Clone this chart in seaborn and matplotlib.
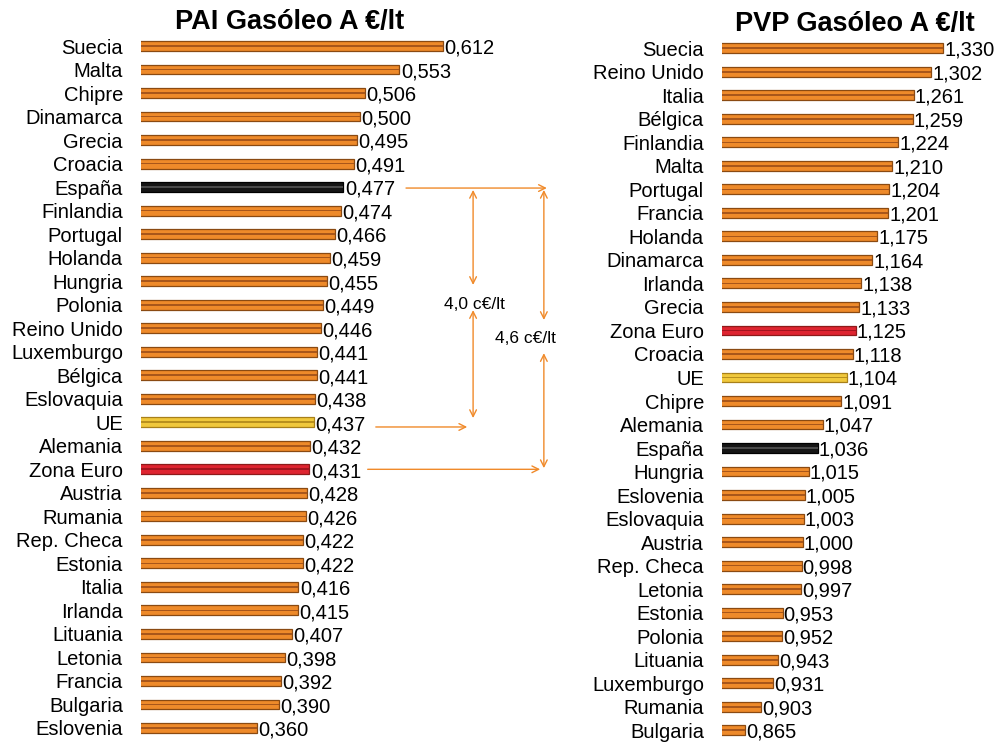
import matplotlib
matplotlib.use("Agg")
import matplotlib.pyplot as plt
import seaborn as sns
import pandas as pd

# ---- data ----
pai_countries = ["Suecia", "Malta", "Chipre", "Dinamarca", "Grecia", "Croacia", "España",
                 "Finlandia", "Portugal", "Holanda", "Hungria", "Polonia", "Reino Unido",
                 "Luxemburgo", "Bélgica", "Eslovaquia", "UE", "Alemania", "Zona Euro",
                 "Austria", "Rumania", "Rep. Checa", "Estonia", "Italia", "Irlanda",
                 "Lituania", "Letonia", "Francia", "Bulgaria", "Eslovenia"]
pai_values = [0.612, 0.553, 0.506, 0.500, 0.495, 0.491, 0.477, 0.474, 0.466, 0.459,
              0.455, 0.449, 0.446, 0.441, 0.441, 0.438, 0.437, 0.432, 0.431, 0.428,
              0.426, 0.422, 0.422, 0.416, 0.415, 0.407, 0.398, 0.392, 0.390, 0.360]

pvp_countries = ["Suecia", "Reino Unido", "Italia", "Bélgica", "Finlandia", "Malta",
                 "Portugal", "Francia", "Holanda", "Dinamarca", "Irlanda", "Grecia",
                 "Zona Euro", "Croacia", "UE", "Chipre", "Alemania", "España", "Hungria",
                 "Eslovenia", "Eslovaquia", "Austria", "Rep. Checa", "Letonia", "Estonia",
                 "Polonia", "Lituania", "Luxemburgo", "Rumania", "Bulgaria"]
pvp_values = [1.330, 1.302, 1.261, 1.259, 1.224, 1.210, 1.204, 1.201, 1.175, 1.164,
              1.138, 1.133, 1.125, 1.118, 1.104, 1.091, 1.047, 1.036, 1.015, 1.005,
              1.003, 1.000, 0.998, 0.997, 0.953, 0.952, 0.943, 0.931, 0.903, 0.865]

titles = ["PAI Gasóleo A €/lt", "PVP Gasóleo A €/lt"]
diff_labels = ["4,0 c€/lt", "4,6 c€/lt"]

ORANGE = "#EE8A2A"
FILL = {"España": "#151515", "Zona Euro": "#DE2430", "UE": "#F0C83C"}
EDGE = {"España": "#000000", "Zona Euro": "#8E1A1A", "UE": "#A8801A"}
INNER = {"España": "#4A4A4A", "Zona Euro": "#A3141E", "UE": "#B8901E"}
ORANGE_EDGE = "#8A4A12"
ORANGE_INNER = "#A8561A"

sns.set_theme(style="white")
plt.rcParams["font.family"] = ["Liberation Sans", "DejaVu Sans"]
plt.rcParams["text.color"] = "black"

fig = plt.figure(figsize=(10.03, 7.42), dpi=100)
W, H = 1003, 742

def px_axes(x0, x1, ytop, ybot):
    return fig.add_axes([x0 / W, (H - ybot) / H, (x1 - x0) / W, (ybot - ytop) / H])

ax1 = px_axes(141, 493, 34.25, 739.75)
ax2 = px_axes(722, 973, 36.5, 742.0)

def draw(ax, countries, values, xlim, dy):
    df = pd.DataFrame({"pais": countries, "valor": values})
    pal = {c: FILL.get(c, ORANGE) for c in countries}
    inner = {c: INNER.get(c, ORANGE_INNER) for c in countries}
    sns.barplot(data=df, y="pais", x="valor", hue="pais", palette=pal, order=countries,
                hue_order=countries, orient="h", width=0.42, legend=False, ax=ax,
                linewidth=0.9, saturation=1)
    n_outer = len(ax.containers)
    for cont, c in zip(ax.containers[:n_outer], countries):
        for p in cont:
            p.set_edgecolor(EDGE.get(c, ORANGE_EDGE))
    sns.barplot(data=df, y="pais", x="valor", hue="pais", palette=inner, order=countries,
                hue_order=countries, orient="h", width=0.07, legend=False, ax=ax,
                linewidth=0, saturation=1)
    ax.set_xlim(*xlim)
    ax.set_ylim(len(countries) - 0.5, -0.5)
    ax.set_xlabel("")
    ax.set_ylabel("")
    ax.set_xticks([])
    ax.tick_params(axis="y", length=0, pad=13, labelsize=14.5, labelcolor="black")
    for s in ax.spines.values():
        s.set_visible(False)
    ax.patch.set_alpha(0)
    for i, v in enumerate(values):
        ax.text(v + (xlim[1] - xlim[0]) * 0.004, i + dy, f"{v:.3f}".replace(".", ","),
                va="center", ha="left", fontsize=14.5, color="black", clip_on=False)

draw(ax1, pai_countries, pai_values, (0.2025, 0.68), 0.1)
draw(ax2, pvp_countries, pvp_values, (0.811, 1.40), 0.08)

fig.text(290 / W, 1 - 22 / H, titles[0], ha="center", va="center", fontsize=19.5,
         fontweight="bold", color="black")
fig.text(855 / W, 1 - 24 / H, titles[1], ha="center", va="center", fontsize=19.5,
         fontweight="bold", color="black")

# ---- annotations (in left-axis data coordinates) ----
AC = "#F08A2A"
i_es = pai_countries.index("España")
i_ue = pai_countries.index("UE")
i_ze = pai_countries.index("Zona Euro")
xa, xb = 0.653, 0.749
arrow = dict(arrowstyle="->", color=AC, lw=1, shrinkA=0, shrinkB=0, mutation_scale=12)
darrow = dict(arrowstyle="<->", color=AC, lw=1, shrinkA=0, shrinkB=0, mutation_scale=12)

def ann(x0, y0, x1, y1, props):
    a = ax1.annotate("", xy=(x1, y1), xytext=(x0, y0), xycoords="data",
                     textcoords="data", arrowprops=props, annotation_clip=False)
    a.arrow_patch.set_clip_on(False)

ann(0.562, i_es + 0.04, 0.753, i_es + 0.04, arrow)
ann(0.521, i_ue + 0.2, 0.645, i_ue + 0.2, arrow)
ann(0.510, i_ze, 0.744, i_ze, arrow)
ann(xa, i_es + 0.12, xa, i_es + 4.16, darrow)
ann(xa, i_es + 5.23, xa, i_es + 9.82, darrow)
ax1.text(0.6542, i_es + 5.0, diff_labels[0], ha="center", va="center", fontsize=12.5,
         color="black", clip_on=False)
ann(xb, i_es + 0.12, xb, i_es + 5.65, darrow)
ann(xb, i_es + 7.06, xb, i_ze - 0.05, darrow)
ax1.text(0.7234, i_es + 6.42, diff_labels[1], ha="center", va="center", fontsize=12.5,
         color="black", clip_on=False)

fig.savefig("out.png", dpi=100)
